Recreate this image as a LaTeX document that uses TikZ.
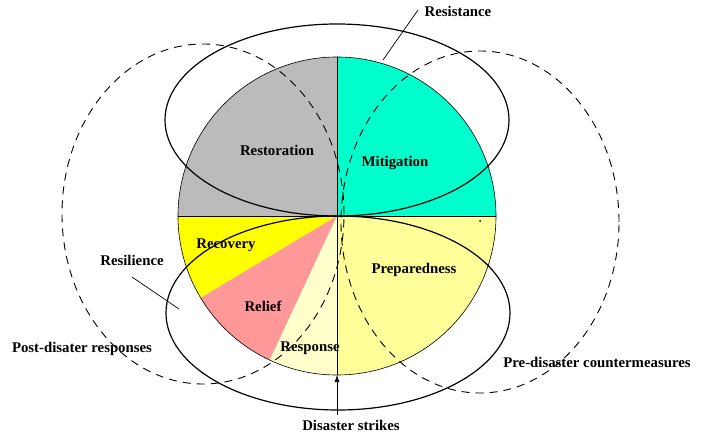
\documentclass[tikz,border=0pt]{standalone}
\usepackage{fontspec}
\setmainfont{Liberation Serif}
\usetikzlibrary{arrows.meta}
\definecolor{restore}{RGB}{187,187,187}
\definecolor{mitig}{RGB}{0,255,204}
\definecolor{prep}{RGB}{255,255,153}
\definecolor{resp}{RGB}{255,255,204}
\definecolor{relief}{RGB}{255,153,153}
\definecolor{recov}{RGB}{255,255,0}
\begin{document}
\begin{tikzpicture}[x=1pt,y=1pt,
  lbl/.style={font=\fontsize{14.8}{16}\selectfont\bfseries, inner sep=0pt},
  ring/.style={line width=1.2pt},
  dashring/.style={line width=0.9pt, dash pattern=on 8pt off 6pt},
  edge/.style={line width=0.6pt},
  leader/.style={line width=0.7pt}]
\useasboundingbox (0,0) rectangle (707,434);
\coordinate (C) at (337,218);

% sectors of the disaster cycle
\fill[mitig]   (C) -- ++(0:159)   arc (0:90:159)    -- cycle;
\fill[restore] (C) -- ++(90:159)  arc (90:180:159)  -- cycle;
\fill[recov]   (C) -- ++(180:159) arc (180:211:159) -- cycle;
\fill[relief]  (C) -- ++(211:159) arc (211:245:159) -- cycle;
\fill[resp]    (C) -- ++(245:159) arc (245:270:159) -- cycle;
\fill[prep]    (C) -- ++(270:159) arc (270:360:159) -- cycle;

% outline and dividing diameters
\draw[edge] (C) circle (159);
\draw[edge] (C) ++(180:159) -- ++(318,0);
\draw[edge] (C) ++(90:159) -- ++(0,-318);

% resistance and resilience rings
\draw[ring] (337,314) ellipse (172 and 96);
\draw[ring] (338,121) ellipse (172 and 97);

% post- and pre-disaster envelopes
\draw[dashring] (203,220) ellipse (141 and 170);
\draw[dashring] (480,212) ellipse (139 and 171);
\fill (480,213) circle (1pt);

% sector labels
\node[lbl] (restoration) at (277,284) {Restoration};
\node[lbl] (mitigation) at (395,271) {Mitigation};
\node[lbl] (recovery) at (226,189) {Recovery};
\node[lbl] (relief) at (263,128) {Relief};
\node[lbl] (response) at (310,86) {Response};
\node[lbl] (preparedness) at (414,164) {Preparedness};

% outer labels
\node[lbl] (resistance) at (458,423) {Resistance};
\node[lbl] (resilience) at (132,174) {Resilience};
\node[lbl] (post) at (82,85) {Post-disater responses};
\node[lbl] (pre) at (597,72) {Pre-disaster countermeasures};
\node[lbl] (strikes) at (351,9) {Disaster strikes};

\coordinate (resA) at (418,424);
\coordinate (resB) at (383,374);
\coordinate (silA) at (132,157);
\coordinate (silB) at (179,125);
\coordinate (bottom) at (337,59);
\coordinate (foot) at (337,19);

\draw[leader] (resA) -- (resB);
\draw[leader] (silA) -- (silB);
\draw[leader, -{Latex[length=7pt,width=5pt]}] (foot) -- (bottom);
\end{tikzpicture}
\end{document}
